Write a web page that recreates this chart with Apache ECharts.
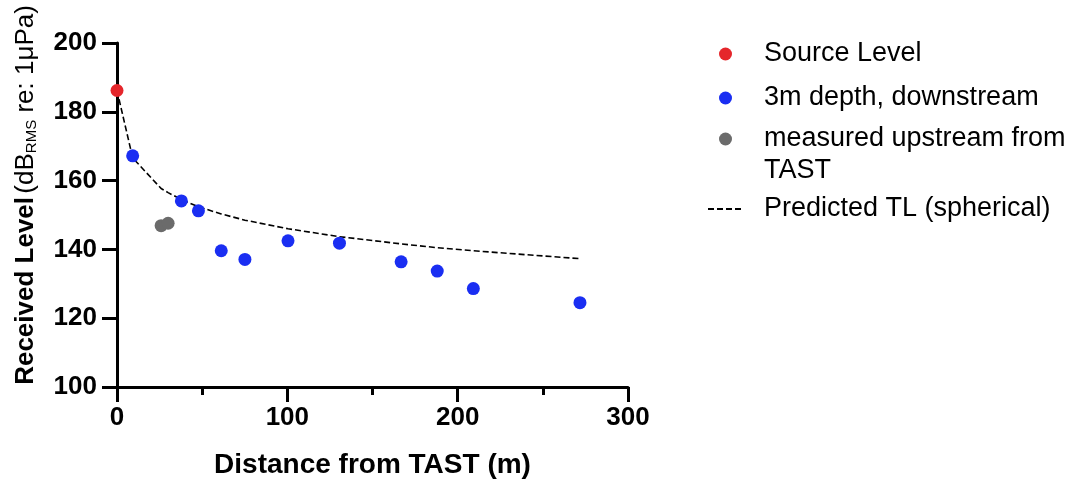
<!DOCTYPE html>
<html>
<head>
<meta charset="utf-8">
<script src="https://cdn.jsdelivr.net/npm/echarts@6/dist/echarts.min.js"></script>
<style>
  html, body { margin: 0; padding: 0; background: #fff; }
  #echarts { width: 1078px; height: 479px; }
</style>
</head>
<body>
<div id="echarts"></div>
<script>
// 数据
var sourceX = [0];
var sourceY = [186.2];

var downX = [9.2, 37.8, 47.8, 61.2, 75.1, 100.4, 130.6, 166.8, 188, 209.2, 271.8];
var downY = [167.2, 154.1, 151.2, 139.6, 137.1, 142.5, 141.8, 136.4, 133.7, 128.6, 124.5];

var upX = [25.9, 30];
var upY = [146.9, 147.6];

// predicted TL
var tlX = [0, 9.2, 25.9, 30, 37.8, 47.8, 61.2, 75.1, 100.4, 130.6, 166.8, 188, 209.2, 271.8];
var tlY = [186.2, 166.6, 157.7, 156.5, 154.5, 152.4, 150.3, 148.5, 146, 143.7, 141.6, 140.5, 139.6, 137.3];

var xTicks = [0, 100, 200, 300];
var yTicks = [100, 120, 140, 160, 180, 200];

function pairs(xs, ys) {
  return xs.map(function (x, i) { return [x, ys[i]]; });
}

var FONT = "Liberation Sans";
var RED = "#e5262b";
var BLUE = "#1a2ef2";
var GRAY = "#6b6b6b";

var chartDom = document.getElementById("echarts");
var myChart = echarts.init(chartDom);
var option;

var legendText = { fontFamily: FONT, fontSize: 27, color: "#000", lineHeight: 30, padding: [0, 0, 0, 27] };

option = {
  animation: false,
  backgroundColor: "#fff",
  grid: {
    left: 117,
    right: 450,
    top: 43,
    bottom: 92,
    outerBoundsMode: "none",
  },
  legend: [
    {
      left: 719, top: 39, padding: 0, selectedMode: false,
      itemWidth: 13, itemHeight: 13,
      data: ["Source Level"],
      textStyle: legendText,
    },
    {
      left: 719, top: 83, padding: 0, selectedMode: false,
      itemWidth: 13, itemHeight: 13,
      data: ["3m depth, downstream"],
      textStyle: legendText,
    },
    {
      left: 719, top: 91, padding: 0, selectedMode: false,
      itemWidth: 13, itemHeight: 13,
      data: ["measured upstream from TAST"],
      // 空的第一行让图标对齐第一行文字
      formatter: function () { return "\nmeasured upstream from\nTAST"; },
      textStyle: { fontFamily: FONT, fontSize: 27, color: "#000", lineHeight: 32, padding: [0, 0, 0, 27] },
    },
    {
      left: 707, top: 194, padding: 0, selectedMode: false,
      itemWidth: 36, itemHeight: 13,
      data: ["Predicted TL (spherical)"],
      itemStyle: { color: "rgba(0,0,0,0)", borderColor: "rgba(0,0,0,0)", borderWidth: 0 },
      textStyle: { fontFamily: FONT, fontSize: 27, color: "#000", lineHeight: 30, padding: [0, 0, 0, 15] },
    },
  ],
  xAxis: {
    type: "value",
    min: 0,
    max: 300,
    interval: 100,
    name: "Distance from TAST (m)",
    nameLocation: "middle",
    nameGap: 64,
    nameTextStyle: { fontFamily: FONT, fontSize: 28, fontWeight: "bold", color: "#000" },
    axisLine: { show: true, onZero: false, lineStyle: { color: "#000", width: 3 } },
    axisTick: { show: true, length: 15, lineStyle: { color: "#000", width: 3 } },
    minorTick: { show: true, splitNumber: 2, length: 8, lineStyle: { color: "#000", width: 3 } },
    axisLabel: {
      margin: 18,
      fontFamily: FONT, fontSize: 26, fontWeight: "bold", color: "#000",
      formatter: function (v) { return xTicks.indexOf(v) >= 0 ? String(v) : ""; },
    },
    splitLine: { show: false },
  },
  yAxis: {
    type: "value",
    min: 100,
    max: 200,
    interval: 20,
    name: "{b|Received Level} {n|(dB}{s|RMS}{n| re: 1μPa)}",
    nameLocation: "middle",
    nameGap: 76,
    nameRotate: 90,
    nameTextStyle: {
      fontFamily: FONT,
      color: "#000",
      padding: [0, 0, 0, 40],
      rich: {
        b: { fontFamily: FONT, fontSize: 26, fontWeight: "bold", color: "#000", lineHeight: 30 },
        n: { fontFamily: FONT, fontSize: 26, color: "#000", lineHeight: 30 },
        s: { fontFamily: FONT, fontSize: 15, color: "#000", lineHeight: 15, padding: [12, 0, 0, 0] },
      },
    },
    axisLine: { show: true, onZero: false, lineStyle: { color: "#000", width: 3 } },
    axisTick: { show: true, length: 15, lineStyle: { color: "#000", width: 3 } },
    axisLabel: {
      margin: 20,
      fontFamily: FONT, fontSize: 26, fontWeight: "bold", color: "#000",
      formatter: function (v) { return yTicks.indexOf(v) >= 0 ? String(v) : ""; },
    },
    splitLine: { show: false },
  },
  series: [
    {
      name: "Predicted TL (spherical)",
      type: "line",
      z: 1,
      symbol: "none",
      smooth: false,
      lineStyle: { color: "#000", width: 1.6, type: [6, 3] },
      itemStyle: { color: "#000" },
      data: pairs(tlX, tlY),
    },
    {
      name: "measured upstream from TAST",
      type: "scatter",
      z: 2,
      symbolSize: 13,
      itemStyle: { color: GRAY, opacity: 1 },
      data: pairs(upX, upY),
    },
    {
      name: "3m depth, downstream",
      type: "scatter",
      z: 3,
      symbolSize: 13,
      itemStyle: { color: BLUE, opacity: 1 },
      data: pairs(downX, downY),
    },
    {
      name: "Source Level",
      type: "scatter",
      z: 4,
      symbolSize: 13,
      itemStyle: { color: RED, opacity: 1 },
      data: pairs(sourceX, sourceY),
    },
  ],
};

option && myChart.setOption(option);
</script>
</body>
</html>
